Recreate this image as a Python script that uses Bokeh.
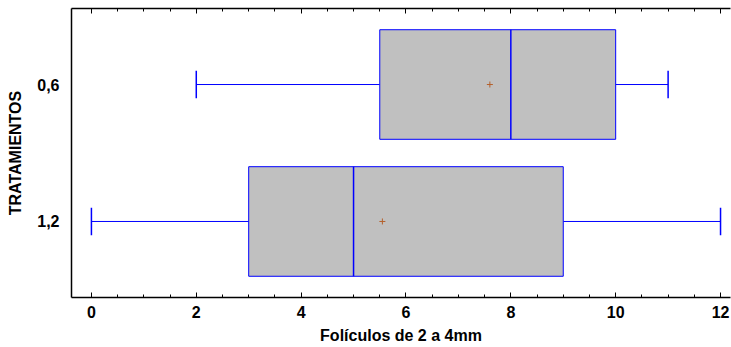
from bokeh.plotting import figure
from bokeh.models import Range1d, LinearAxis, FixedTicker, SingleIntervalTicker
from bokeh.embed import file_html
from bokeh.resources import INLINE

# Box-and-whisker summary per treatment (top to bottom: 0,6 then 1,2)
categories = ["0,6", "1,2"]
whisker_low = [2.0, 0.0]
q1 = [5.5, 3.0]
median = [8.0, 5.0]
q3 = [10.0, 9.0]
whisker_high = [11.0, 12.0]
mean = [7.6, 5.55]

BLUE = "#0000ff"
FONT = "Liberation Sans"

# vertical slots: last category at the bottom
ypos = [len(categories) - i for i in range(len(categories))]
box_h = 0.8
cap_h = 0.2

p = figure(width=731, height=347, output_backend="svg", toolbar_location=None,
           x_range=Range1d(-0.38, 12.19), y_range=Range1d(0.445, 2.555),
           min_border_left=71, min_border_right=1, min_border_top=8,
           min_border_bottom=50, x_axis_location="below")
p.outline_line_color = None
p.xgrid.visible = False
p.ygrid.visible = False
p.background_fill_color = "white"
p.border_fill_color = "white"

# whiskers
p.segment(x0=whisker_low, y0=ypos, x1=q1, y1=ypos, line_color=BLUE, line_width=1)
p.segment(x0=q3, y0=ypos, x1=whisker_high, y1=ypos, line_color=BLUE, line_width=1)
# whisker caps
p.segment(x0=whisker_low, y0=[y - cap_h / 2 for y in ypos], x1=whisker_low,
          y1=[y + cap_h / 2 for y in ypos], line_color=BLUE, line_width=1.5)
p.segment(x0=whisker_high, y0=[y - cap_h / 2 for y in ypos], x1=whisker_high,
          y1=[y + cap_h / 2 for y in ypos], line_color=BLUE, line_width=1.5)
# boxes
p.hbar(y=ypos, left=q1, right=q3, height=box_h, fill_color="#c0c0c0",
       line_color=BLUE, line_width=1)
# medians
p.segment(x0=median, y0=[y - box_h / 2 for y in ypos], x1=median,
          y1=[y + box_h / 2 for y in ypos], line_color=BLUE, line_width=1.5)
# means
p.scatter(x=mean, y=ypos, marker="cross", size=6, line_color="#b4602c", line_width=1)

# bottom axis
xa = p.xaxis[0]
xa.ticker = SingleIntervalTicker(interval=2, num_minor_ticks=4)
xa.axis_label = "Folículos de 2 a 4mm"
xa.axis_label_text_font = FONT
xa.axis_label_text_font_style = "bold"
xa.axis_label_text_font_size = "16px"
xa.axis_label_text_color = "black"
xa.axis_label_standoff = 6
xa.major_label_text_font = FONT
xa.major_label_text_font_style = "bold"
xa.major_label_text_font_size = "16px"
xa.major_label_text_color = "black"
xa.major_label_standoff = 8
xa.major_tick_in = 5
xa.major_tick_out = 0
xa.minor_tick_in = 3
xa.minor_tick_out = 0
xa.axis_line_color = "black"
xa.axis_line_width = 1.5

# top axis: ticks only, no labels
ta = LinearAxis(ticker=SingleIntervalTicker(interval=2, num_minor_ticks=4))
ta.major_label_text_font_size = "1px"
ta.major_label_text_color = None
ta.major_label_standoff = 0
ta.major_tick_in = 5
ta.major_tick_out = 0
ta.minor_tick_in = 3
ta.minor_tick_out = 0
ta.axis_line_width = 1.5
p.add_layout(ta, "above")

# left axis with treatment labels
ya = p.yaxis[0]
ya.ticker = FixedTicker(ticks=ypos)
ya.major_label_overrides = {y: c for y, c in zip(ypos, categories)}
ya.axis_label = "TRATAMIENTOS"
ya.axis_label_text_font = FONT
ya.axis_label_text_font_style = "bold"
ya.axis_label_text_font_size = "16px"
ya.axis_label_text_color = "black"
ya.axis_label_standoff = 10
ya.major_label_text_font = FONT
ya.major_label_text_font_style = "bold"
ya.major_label_text_font_size = "16px"
ya.major_label_text_color = "black"
ya.major_label_standoff = 12
ya.major_tick_in = 0
ya.major_tick_out = 0
ya.minor_tick_in = 0
ya.minor_tick_out = 0
ya.axis_line_width = 1.5

open("out.html", "w").write(file_html(p, INLINE))
